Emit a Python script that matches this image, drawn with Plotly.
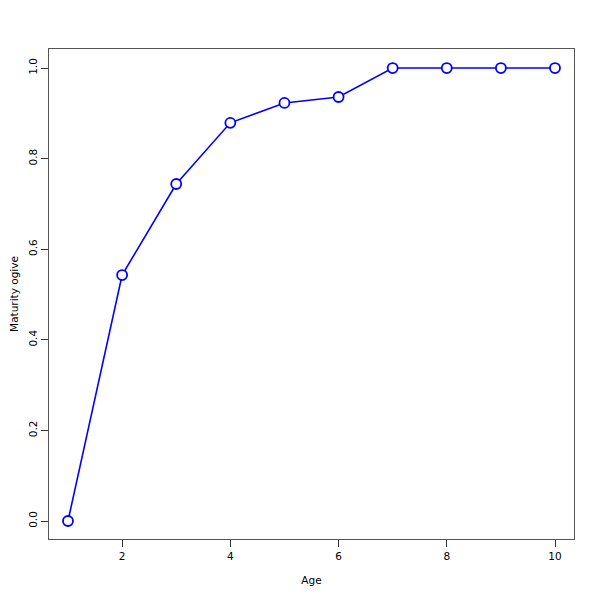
import plotly.graph_objects as go

age = [1, 2, 3, 4, 5, 6, 7, 8, 9, 10]
maturity = [0.0, 0.543, 0.744, 0.879, 0.923, 0.936, 1.0, 1.0, 1.0, 1.0]
x_ticks = [2, 4, 6, 8, 10]
y_ticks = [0.0, 0.2, 0.4, 0.6, 0.8, 1.0]
y_tick_labels = ["0.0", "0.2", "0.4", "0.6", "0.8", "1.0"]

fig = go.Figure(go.Scatter(
    x=age, y=maturity, mode="lines+markers",
    line=dict(color="#0000ff", width=1.6),
    marker=dict(symbol="circle", size=10, color="white",
                line=dict(color="#0000ff", width=1.8)),
))

axis_common = dict(
    showgrid=False, zeroline=False, showline=True, linecolor="#555555", linewidth=1,
    mirror=True, ticks="outside", ticklen=7, tickcolor="#333333", automargin=False,
    tickfont=dict(family="DejaVu Sans", size=10.5, color="#000000"),
)

fig.update_layout(
    width=600, height=600,
    margin=dict(l=41, r=34, t=41, b=69),
    paper_bgcolor="white", plot_bgcolor="white",
    showlegend=False,
    xaxis=dict(range=[0.649, 10.351], tickvals=x_ticks,
               title=dict(text="Age", font=dict(family="DejaVu Sans", size=10.5, color="#000"), standoff=16),
               **axis_common),
    yaxis=dict(range=[-0.0397, 1.042], tickvals=y_ticks, ticktext=y_tick_labels, tickangle=-90,
               title=dict(text="Maturity ogive", font=dict(family="DejaVu Sans", size=10.5, color="#000"), standoff=20),
               **axis_common),
)

fig.write_html("out.html")
